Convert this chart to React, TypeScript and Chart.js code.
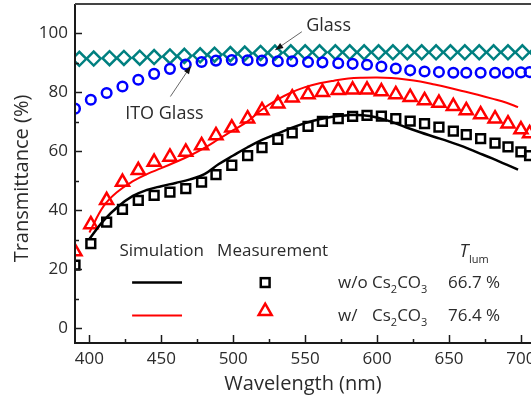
import React, { useEffect, useRef } from 'react';
import { Chart, registerables } from 'chart.js';

Chart.register(...registerables);

const FONT = '"Open Sans", "DejaVu Sans", sans-serif';
const TEXT = '#2b2b2b';

// ---- data ----
const measWavelength = [390, 401, 412, 423, 434, 445, 456, 467, 478, 488, 499, 510, 520, 531, 541, 552, 562, 573, 583, 593, 603, 613, 623, 633, 643, 653, 662, 672, 682, 691, 700, 706];
const withoutCsMeas = [21.4, 28.7, 36.0, 40.3, 43.4, 45.1, 46.2, 47.4, 49.6, 52.1, 55.3, 58.6, 61.3, 64.1, 66.3, 68.5, 70.2, 71.1, 71.9, 72.2, 72.0, 71.1, 70.3, 69.4, 68.2, 66.9, 65.7, 64.3, 62.8, 61.5, 59.8, 58.6];
const withCsMeas = [26.0, 35.2, 43.4, 49.6, 53.6, 56.4, 58.1, 59.8, 62.0, 65.4, 68.0, 71.1, 73.9, 76.2, 78.2, 79.3, 80.1, 80.7, 80.9, 80.9, 80.3, 79.3, 78.4, 77.3, 76.4, 75.3, 73.9, 72.5, 71.1, 69.4, 67.4, 66.1];
const itoGlass = [74.5, 77.5, 79.8, 82.0, 84.3, 86.3, 88.0, 89.5, 90.3, 90.8, 91.0, 90.9, 90.8, 90.6, 90.6, 90.3, 90.2, 89.9, 89.7, 89.4, 88.8, 88.1, 87.5, 87.1, 86.9, 86.7, 86.7, 86.7, 86.7, 86.7, 86.8, 86.9];

const glassWavelength = [393, 403, 414, 424, 435, 445, 456, 466, 477, 487, 498, 508, 519, 529, 540, 550, 560, 571, 581, 591, 601, 611, 621, 631, 641, 651, 661, 671, 681, 691, 701, 711];
const glass = [91.4, 91.5, 91.6, 91.7, 91.8, 92.0, 92.2, 92.4, 92.6, 92.8, 93.0, 93.2, 93.4, 93.5, 93.6, 93.6, 93.6, 93.6, 93.6, 93.6, 93.6, 93.6, 93.6, 93.6, 93.6, 93.6, 93.6, 93.6, 93.6, 93.6, 93.6, 93.6];

const simWavelength = [400, 410, 420, 430, 440, 450, 460, 470, 480, 490, 500, 510, 520, 530, 540, 550, 560, 570, 580, 590, 600, 610, 620, 630, 640, 650, 660, 670, 680, 690, 698];
const withoutCsSim = [30.3, 36.6, 41.3, 44.8, 46.9, 48.2, 49.3, 50.5, 52.3, 55.7, 58.6, 61.4, 63.9, 65.9, 67.9, 69.6, 70.9, 71.8, 72.3, 72.3, 71.5, 70.0, 68.2, 66.5, 64.9, 63.3, 61.6, 59.6, 57.6, 55.5, 53.8];
const withCsSim = [32.5, 41.5, 46.5, 49.8, 52.3, 54.3, 56.4, 58.6, 61.2, 64.2, 67.2, 70.2, 74.2, 77.4, 79.9, 81.8, 83.1, 84.0, 84.7, 85.0, 85.1, 84.9, 84.4, 83.7, 82.7, 81.6, 80.4, 79.2, 77.9, 76.5, 75.0];

const xTicks = [400, 450, 500, 550, 600, 650, 700];
const xMinorTicks = [425, 475, 525, 575, 625, 675];
const yTicks = [0, 20, 40, 60, 80, 100];
const yMinorTicks = [10, 30, 50, 70, 90];

const tlumWithout = '66.7 %';
const tlumWith = '76.4 %';

const pts = (xs: number[], ys: number[]) => xs.map((x, i) => ({ x, y: ys[i] }));

const decorPlugin = {
  id: 'decor',
  afterDatasetsDraw(chart: any) {
    const { ctx, chartArea } = chart;
    const sx = chart.scales.x;
    const sy = chart.scales.y;
    const X = (v: number) => sx.getPixelForValue(v);
    const Y = (v: number) => sy.getPixelForValue(v);
    ctx.save();

    // axes frame
    ctx.strokeStyle = '#1a1a1a';
    ctx.lineWidth = 2;
    ctx.beginPath();
    ctx.moveTo(chartArea.left, chartArea.top);
    ctx.lineTo(chartArea.left, chartArea.bottom);
    ctx.lineTo(chartArea.right, chartArea.bottom);
    ctx.stroke();
    ctx.strokeStyle = '#444';
    ctx.beginPath();
    ctx.moveTo(chartArea.left, chartArea.top);
    ctx.lineTo(chartArea.right, chartArea.top);
    ctx.stroke();

    // inward ticks
    ctx.strokeStyle = '#1a1a1a';
    ctx.lineWidth = 1.5;
    const tickX = (v: number, len: number) => {
      const p = Math.round(X(v)) + 0.5;
      ctx.beginPath();
      ctx.moveTo(p, chartArea.bottom);
      ctx.lineTo(p, chartArea.bottom - len);
      ctx.stroke();
    };
    const tickY = (v: number, len: number) => {
      const p = Math.round(Y(v)) + 0.5;
      ctx.beginPath();
      ctx.moveTo(chartArea.left, p);
      ctx.lineTo(chartArea.left + len, p);
      ctx.stroke();
    };
    xTicks.forEach((v) => tickX(v, 8));
    xMinorTicks.forEach((v) => tickX(v, 4));
    yTicks.forEach((v) => tickY(v, 7));
    yMinorTicks.forEach((v) => tickY(v, 4));

    // y title
    ctx.fillStyle = TEXT;
    ctx.save();
    ctx.translate(22, (chartArea.top + chartArea.bottom) / 2 + 5);
    ctx.rotate(-Math.PI / 2);
    ctx.font = `20px ${FONT}`;
    ctx.textAlign = 'center';
    ctx.textBaseline = 'middle';
    ctx.fillText('Transmittance (%)', 0, 0);
    ctx.restore();

    // arrows
    const arrow = (x1: number, y1: number, x2: number, y2: number) => {
      const ax = X(x1), ay = Y(y1), bx = X(x2), by = Y(y2);
      ctx.strokeStyle = '#666';
      ctx.lineWidth = 1;
      ctx.beginPath();
      ctx.moveTo(ax, ay);
      ctx.lineTo(bx, by);
      ctx.stroke();
      const ang = Math.atan2(by - ay, bx - ax);
      const L = 8, W = 3;
      ctx.fillStyle = '#111';
      ctx.beginPath();
      ctx.moveTo(bx, by);
      ctx.lineTo(bx - L * Math.cos(ang) + W * Math.sin(ang), by - L * Math.sin(ang) - W * Math.cos(ang));
      ctx.lineTo(bx - L * Math.cos(ang) - W * Math.sin(ang), by - L * Math.sin(ang) + W * Math.cos(ang));
      ctx.closePath();
      ctx.fill();
    };
    arrow(547.7, 100.6, 529.2, 94.4);
    arrow(456.3, 78.6, 470.6, 89.0);

    const text = (s: string, x: number, y: number, size: number, align: CanvasTextAlign = 'center', style = '') => {
      ctx.fillStyle = TEXT;
      ctx.font = `${style}${size}px ${FONT}`;
      ctx.textAlign = align;
      ctx.textBaseline = 'middle';
      ctx.fillText(s, X(x), Y(y));
    };
    text('Glass', 566.3, 102.5, 18);
    text('ITO Glass', 452.1, 72.7, 18);

    // legend block
    text('Simulation', 450.3, 26.2, 17);
    text('Measurement', 527.4, 26.2, 17);
    text('T', 660.4, 26.0, 18, 'center', 'italic ');
    text('lum', 663.9, 23.2, 11, 'left');

    ctx.lineWidth = 2.5;
    ctx.strokeStyle = '#000';
    ctx.beginPath();
    ctx.moveTo(X(429.7), Y(15.5));
    ctx.lineTo(X(464.4), Y(15.5));
    ctx.stroke();
    ctx.lineWidth = 2;
    ctx.strokeStyle = '#ff0000';
    ctx.beginPath();
    ctx.moveTo(X(429.7), Y(4.3));
    ctx.lineTo(X(464.4), Y(4.3));
    ctx.stroke();

    // legend square
    const sqx = X(522.2), sqy = Y(15.5), h = 4.4;
    ctx.lineWidth = 2.5;
    ctx.strokeStyle = '#000';
    ctx.strokeRect(sqx - h, sqy - h, 2 * h, 2 * h);
    // legend triangle
    const tx = X(522.2), ty = Y(5.8), r = 7.5;
    ctx.strokeStyle = '#ff0000';
    ctx.beginPath();
    for (let k = 0; k < 3; k++) {
      const a = (k * 2 * Math.PI) / 3;
      const px = tx + Math.sin(a) * r;
      const py = ty - Math.cos(a) * r;
      if (k === 0) ctx.moveTo(px, py); else ctx.lineTo(px, py);
    }
    ctx.closePath();
    ctx.stroke();

    // row labels with subscripts
    const formula = (x: number, y: number) => {
      let cx = X(x);
      const cy = Y(y);
      const parts: [string, boolean][] = [['Cs', false], ['2', true], ['CO', false], ['3', true]];
      ctx.fillStyle = TEXT;
      ctx.textAlign = 'left';
      ctx.textBaseline = 'middle';
      parts.forEach(([s, sub]) => {
        ctx.font = sub ? `11px ${FONT}` : `17px ${FONT}`;
        ctx.fillText(s, cx, sub ? cy + 7 : cy);
        cx += ctx.measureText(s).width;
      });
    };
    text('w/o', 572.9, 15.4, 17, 'left');
    formula(596.5, 15.4);
    text(tlumWithout, 649.3, 15.4, 17, 'left');
    text('w/', 572.9, 4.26, 17, 'left');
    formula(596.5, 4.26);
    text(tlumWith, 649.3, 4.26, 17, 'left');

    ctx.restore();
  },
};

export default function App() {
  const ref = useRef<HTMLCanvasElement | null>(null);
  useEffect(() => {
    if (!ref.current) return;
    const chart = new Chart(ref.current, {
      type: 'scatter',
      data: {
        datasets: [
          {
            label: 'Simulation w/o',
            data: pts(simWavelength, withoutCsSim),
            showLine: true,
            borderColor: '#000',
            borderWidth: 2.5,
            pointRadius: 0,
            tension: 0.4,
          },
          {
            label: 'Simulation w/',
            data: pts(simWavelength, withCsSim),
            showLine: true,
            borderColor: '#ff0000',
            borderWidth: 2,
            pointRadius: 0,
            tension: 0.4,
          },
          {
            label: 'Measurement w/o',
            data: pts(measWavelength, withoutCsMeas),
            pointStyle: 'rect',
            pointRadius: 6.2,
            pointBorderWidth: 2.5,
            borderColor: '#000',
            backgroundColor: 'rgba(0,0,0,0)',
          },
          {
            label: 'Measurement w/',
            data: pts(measWavelength, withCsMeas),
            pointStyle: 'triangle',
            pointRadius: 7.5,
            pointBorderWidth: 2.5,
            borderColor: '#ff0000',
            backgroundColor: 'rgba(0,0,0,0)',
          },
          {
            label: 'ITO Glass',
            data: pts(measWavelength, itoGlass),
            pointStyle: 'circle',
            pointRadius: 4.8,
            pointBorderWidth: 2.5,
            borderColor: '#0000ff',
            backgroundColor: 'rgba(0,0,0,0)',
          },
          {
            label: 'Glass',
            data: pts(glassWavelength, glass),
            pointStyle: 'rectRot',
            pointRadius: 7,
            pointBorderWidth: 2.5,
            borderColor: '#008080',
            backgroundColor: 'rgba(0,0,0,0)',
          },
        ],
      },
      options: {
        animation: false,
        responsive: false,
        maintainAspectRatio: false,
        devicePixelRatio: 1,
        layout: { autoPadding: false, padding: { top: 4, left: 0, right: 0, bottom: 0 } },
        plugins: { legend: { display: false }, tooltip: { enabled: false } },
        scales: {
          x: {
            type: 'linear',
            position: 'bottom',
            min: 390,
            max: 707,
            grid: { display: false, drawTicks: false },
            border: { display: false },
            ticks: { padding: 6, color: TEXT, font: { family: FONT, size: 17 }, maxRotation: 0, autoSkip: false },
            title: { display: true, text: 'Wavelength (nm)', color: TEXT, font: { family: FONT, size: 20 }, padding: { top: 0, bottom: 2 } },
            afterBuildTicks: (s: any) => { s.ticks = xTicks.map((v) => ({ value: v })); },
            afterFit: (s: any) => { s.height = 55; s.paddingLeft = 0; s.paddingRight = 0; },
          },
          y: {
            type: 'linear',
            position: 'left',
            min: -5,
            max: 110,
            grid: { display: false, drawTicks: false },
            border: { display: false },
            ticks: { padding: 7, color: TEXT, font: { family: FONT, size: 17 } },
            afterBuildTicks: (s: any) => { s.ticks = yTicks.map((v) => ({ value: v })); },
            afterFit: (s: any) => { s.width = 75; s.paddingTop = 0; s.paddingBottom = 0; },
          },
        },
      },
      plugins: [decorPlugin],
    } as any);
    return () => chart.destroy();
  }, []);
  return (
    <div style={{ position: 'absolute', left: 0, top: 0, width: 531, height: 398, background: '#fff' }}>
      <canvas ref={ref} width={531} height={398} style={{ display: 'block' }} />
    </div>
  );
}
